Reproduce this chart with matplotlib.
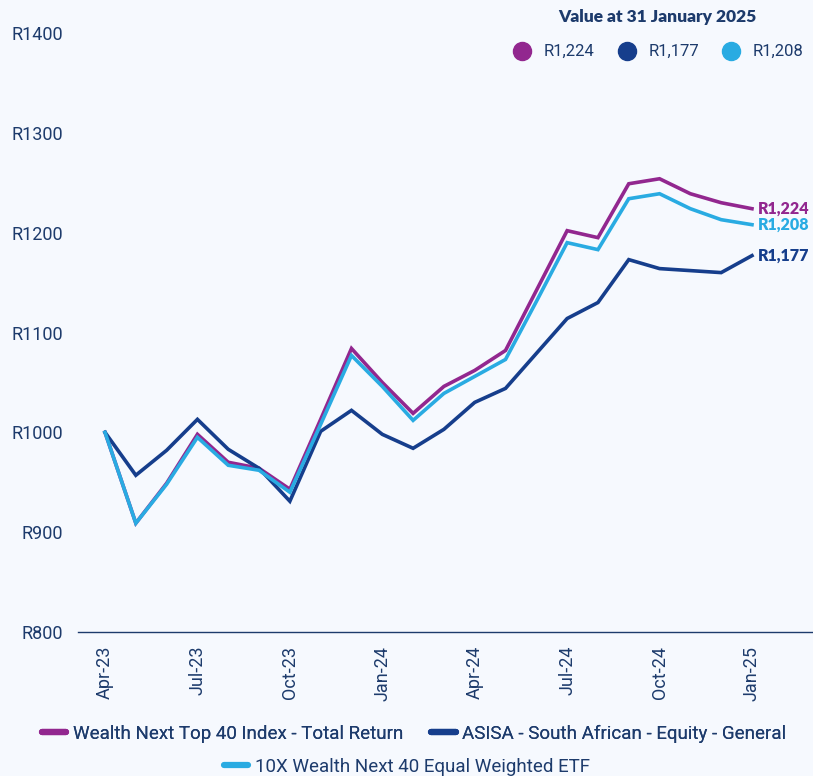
import matplotlib
matplotlib.use("Agg")
import matplotlib.pyplot as plt
from matplotlib.lines import Line2D

months = ['Apr-23','May-23','Jun-23','Jul-23','Aug-23','Sep-23','Oct-23','Nov-23','Dec-23',
          'Jan-24','Feb-24','Mar-24','Apr-24','May-24','Jun-24','Jul-24','Aug-24','Sep-24',
          'Oct-24','Nov-24','Dec-24','Jan-25']
wealth = [1000, 909, 949, 998, 970, 964, 943, 1013, 1084, 1050, 1019, 1046, 1062, 1082,
          1142, 1202, 1195, 1249, 1254, 1239, 1230, 1224]
asisa = [1000, 957, 982, 1013, 983, 964, 931, 1001, 1022, 998, 984, 1003, 1030, 1044,
         1079, 1114, 1130, 1173, 1164, 1162, 1160, 1177]
tenx = [1000, 909, 948, 995, 967, 962, 940, 1008, 1077, 1046, 1012, 1039, 1056, 1073,
        1131, 1190, 1183, 1234, 1239, 1224, 1213, 1208]
series_names = ['Wealth Next Top 40 Index - Total Return',
                'ASISA - South African - Equity - General',
                '10X Wealth Next 40 Equal Weighted ETF']
end_labels = ['R1,224', 'R1,177', 'R1,208']
yticks = [800, 900, 1000, 1100, 1200, 1300, 1400]
header = 'Value at 31 January 2025'

BG = '#F6F9FE'
TXT = '#1d3b6c'
colors = ['#92278F', '#163E8C', '#29ABE2']

plt.rcParams['font.family'] = ['Roboto', 'DejaVu Sans']

fig = plt.figure(figsize=(8.13, 7.76), dpi=100, facecolor=BG)
ax = fig.add_axes([78/813, 1-632/776, 1-78/813, (632-33)/776])
ax.set_facecolor(BG)

x = list(range(len(months)))
for vals, c, name in zip([wealth, asisa, tenx], colors, series_names):
    ax.plot(x, vals, color=c, lw=2.6, solid_joinstyle='miter', label=name)

ax.set_ylim(800, 1400)
ax.set_xlim(-(105-78)/30.8, 21 + (813-752)/30.8)
ax.set_yticks(yticks)
ax.set_yticklabels([f'R{v}' for v in yticks], fontsize=13, color=TXT)
ax.set_xticks(x[::3])
ax.set_xticklabels(months[::3], rotation=90, fontsize=13, color=TXT)
ax.tick_params(axis='both', length=0)
ax.tick_params(axis='y', pad=10.5)
ax.tick_params(axis='x', pad=10)
for s in ['top', 'right', 'left']:
    ax.spines[s].set_visible(False)
ax.spines['bottom'].set_color(TXT)
ax.spines['bottom'].set_linewidth(1.0)

# end labels
for vals, c, lab in zip([wealth, asisa, tenx], colors, end_labels):
    ax.annotate(lab, xy=(x[-1], vals[-1]), xytext=(4, 0), textcoords='offset points',
                ha='left', va='center', fontsize=11.5, fontweight='heavy', color=c,
                family=['Lato', 'DejaVu Sans'], annotation_clip=False)

# header and value legend
fig.text(657/813, 1-17/776, header, ha='center', va='center', fontsize=12.5,
         fontweight='heavy', color=TXT, family=['Lato', 'DejaVu Sans'])
dot_x = [522, 627, 731]
for dx, c, lab in zip(dot_x, colors, [end_labels[0], end_labels[1], end_labels[2]]):
    fig.add_artist(Line2D([dx/813], [1-51/776], marker='o', markersize=13, color=c,
                          transform=fig.transFigure, linestyle='none'))
    fig.text((dx+22)/813, 1-51/776, lab, ha='left', va='center', fontsize=12, color=TXT)

# bottom legend
h = [Line2D([], [], color=c, lw=4.5, solid_capstyle='round') for c in colors]
leg1 = fig.legend(h[:2], series_names[:2], loc='center', bbox_to_anchor=(414/813, 1-734/776),
                  ncol=2, frameon=False, fontsize=13.5, handlelength=1.3, handletextpad=0.35,
                  columnspacing=1.5, labelcolor=TXT)
fig.add_artist(leg1)
leg2 = fig.legend(h[2:], series_names[2:], loc='center', bbox_to_anchor=(407/813, 1-767/776),
                  ncol=1, frameon=False, fontsize=13.5, handlelength=1.3, handletextpad=0.35,
                  labelcolor=TXT)

fig.savefig('out.png', dpi=100, facecolor=BG)
